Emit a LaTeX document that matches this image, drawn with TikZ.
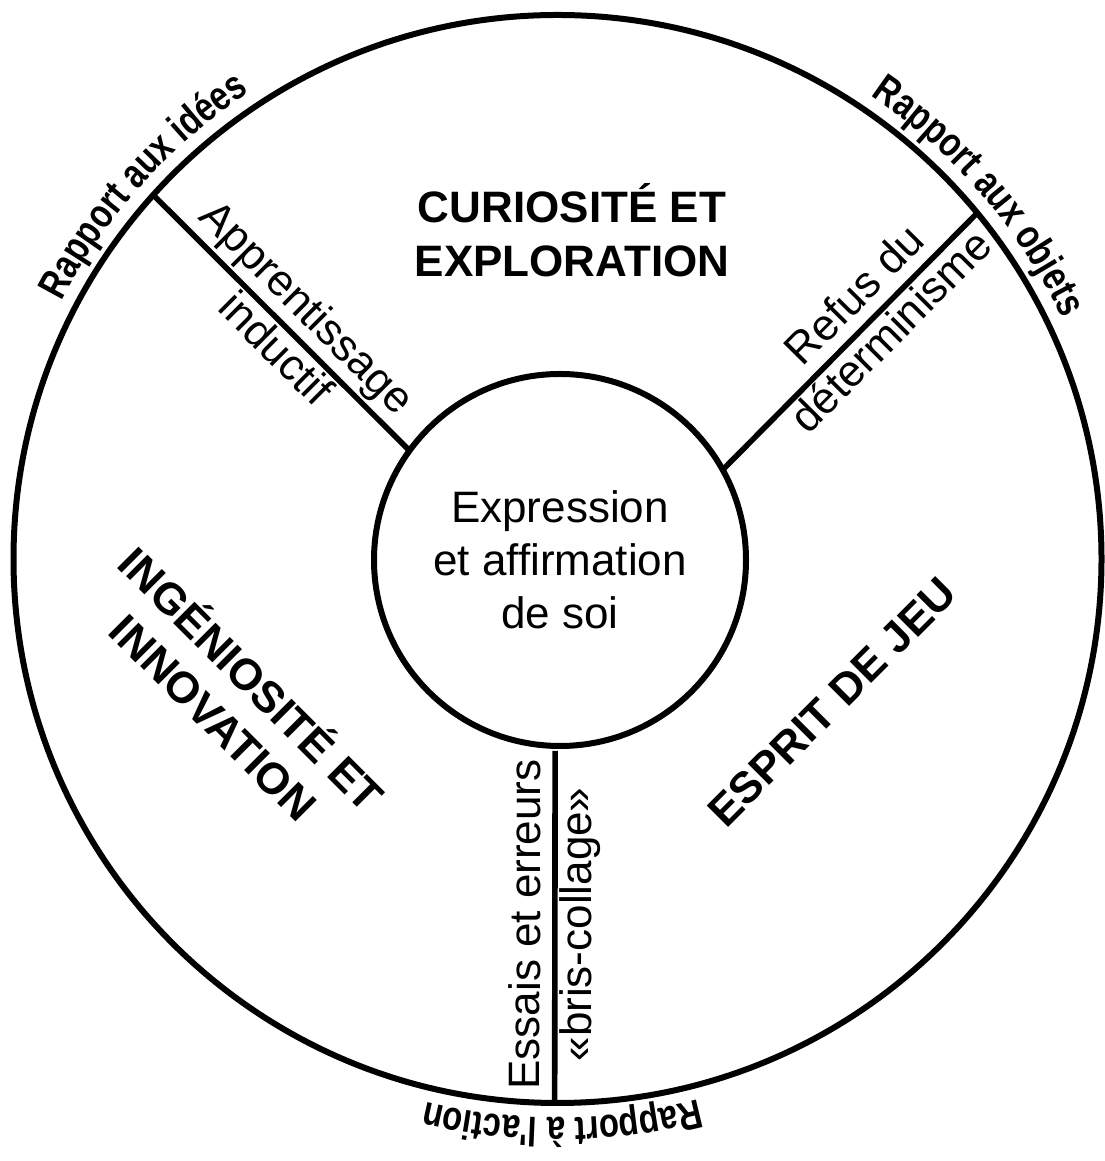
\documentclass[tikz,border=0pt]{standalone}
\usepackage{fontspec}
\setmainfont{Liberation Sans}
\newfontfamily\rimfont[FakeStretch=0.8]{Liberation Sans}
\usepackage{tikz}
\usetikzlibrary{calc}
\usetikzlibrary{decorations.text}

\begin{document}
\begin{tikzpicture}[
x=0.5pt,y=0.5pt,
MyCircles/.style={draw=black,line width=3pt,circle,outer sep=0pt,inner sep=0pt},
Spokes/.style={draw=black,line width=2.8pt},
SpokeText/.style={font=\fontsize{22}{26.5}\selectfont,inner sep=1pt,sloped,text height=16pt,text depth=5pt},
BigText/.style={font=\fontsize{22}{27}\selectfont\bfseries,align=center},
RimText/.style={decorate,decoration={text along path,text align=center,
  text={|\rimfont\fontsize{20.5}{24}\selectfont\bfseries|#1}}}
]
\useasboundingbox (0,0) rectangle (1104,1161);

% Centre of the wheel and radius of the rim texts
\coordinate (O) at (557.5,602);
\pgfmathparse{272}	\let\Rout\pgfmathresult
\pgfmathparse{279.5}	\let\Rtext\pgfmathresult

% the two circles
\node[MyCircles,minimum size=544pt] (ring) at (O) {};
\node[MyCircles,minimum size=186pt,align=center,font=\fontsize{22}{26.5}\selectfont] (self) at (560,601) {Expression\\et affirmation\\de soi};

% ends of the spokes on the rim
\coordinate (idees) at ($(O)+(138:\Rout pt)$);
\coordinate (objets) at ($(O)+(39.5:\Rout pt)$);
\coordinate (action) at ($(O)+(269.7:\Rout pt)$);
\coordinate (soi) at ($(self.center)+(268.5:93pt)$);

% the three spokes with their labels
\draw[Spokes] (idees) -- (self.144) node[SpokeText,pos=0.52,above]{Apprentissage} node[SpokeText,pos=0.54,below]{inductif};
\draw[Spokes] (self.29) -- (objets) node[SpokeText,pos=0.6,above]{Refus du} node[SpokeText,pos=0.6,below]{déterminisme};
\draw[Spokes,shorten >=2.5pt] (action) -- (soi) node[SpokeText,pos=0.5,above]{Essais et erreurs} node[SpokeText,pos=0.5,below]{«bris-collage»};

% the three sectors
\node[BigText] (curio) at (572,931) {CURIOSITÉ ET\\EXPLORATION};
\node[BigText,rotate=-45] (ingenio) at (235,465) {INGÉNIOSITÉ ET\\INNOVATION};
\node[BigText,rotate=45] (esprit) at (832,459) {ESPRIT DE JEU};

% texts round the rim
\path[RimText={Rapport aux idées}] ($(O)+(168:\Rtext pt)$) arc[start angle=168,end angle=108,radius=\Rtext pt];
\path[RimText={Rapport aux objets}] ($(O)+(70.7:\Rtext pt)$) arc[start angle=70.7,end angle=10.7,radius=\Rtext pt];
\path[RimText={Rapport à l'action}] ($(O)+(300.5:\Rtext pt)$) arc[start angle=300.5,end angle=240.5,radius=\Rtext pt];

\end{tikzpicture}
\end{document}
